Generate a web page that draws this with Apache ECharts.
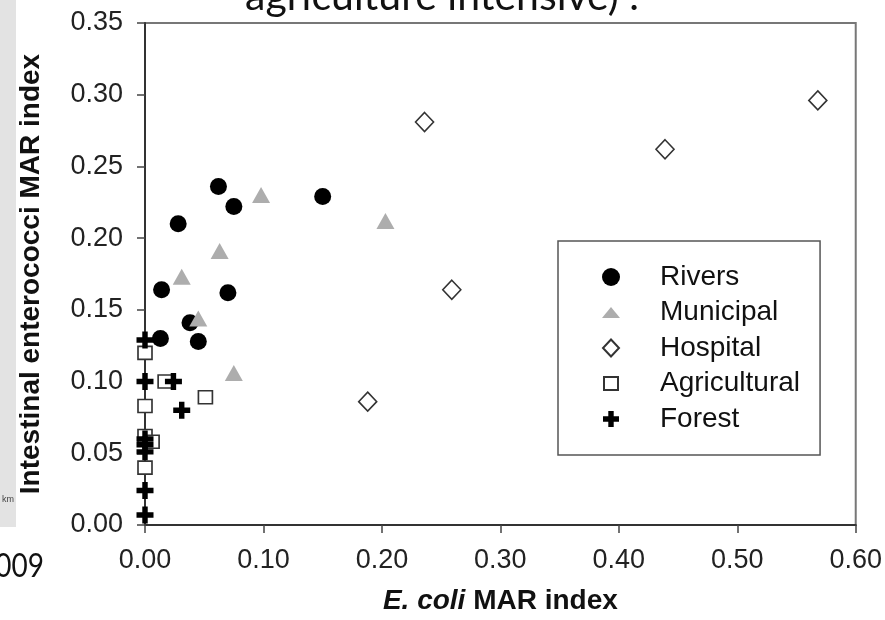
<!DOCTYPE html>
<html>
<head>
<meta charset="utf-8">
<script src="https://cdn.jsdelivr.net/npm/echarts@6/dist/echarts.min.js"></script>
<style>html,body{margin:0;padding:0;background:#fff;}#c{width:885px;height:620px;}</style>
</head>
<body>
<div id="c"></div>
<script>
// ---- data ----
const seriesNames = ['Rivers', 'Municipal', 'Hospital', 'Agricultural', 'Forest'];
const riversX = [0.014, 0.013, 0.028, 0.062, 0.075, 0.070, 0.038, 0.045, 0.150];
const riversY = [0.164, 0.130, 0.210, 0.236, 0.222, 0.162, 0.141, 0.128, 0.229];
const municipalX = [0.098, 0.203, 0.063, 0.031, 0.045, 0.075];
const municipalY = [0.230, 0.212, 0.191, 0.173, 0.144, 0.106];
const hospitalX = [0.236, 0.439, 0.568, 0.259, 0.188];
const hospitalY = [0.281, 0.262, 0.296, 0.164, 0.086];
const agriX = [0, 0.017, 0, 0.051, 0, 0.006, 0];
const agriY = [0.120, 0.100, 0.083, 0.089, 0.062, 0.058, 0.040];
const forestX = [0, 0, 0.024, 0.031, 0, 0, 0, 0, 0];
const forestY = [0.129, 0.100, 0.100, 0.080, 0.060, 0.056, 0.051, 0.024, 0.007];
const xTicks = { min: 0, max: 0.6, step: 0.1 };
const yTicks = { min: 0, max: 0.35, step: 0.05 };
const xTitle = '{i|E. coli} MAR index';
const yTitle = 'Intestinal enterococci MAR index';
const slideTitle = 'agriculture intensive) .';
const slideYear = '2009';
const slideNote = 'km';

const pair = (xs, ys) => xs.map((x, i) => [x, ys[i]]);
const PLUS = 'path://M3.4,0H6.6V3.4H10V6.6H6.6V10H3.4V6.6H0V3.4H3.4Z';
const FONT = 'Liberation Sans, Arial, sans-serif';

const chart = echarts.init(document.getElementById('c'), null, { renderer: 'canvas' });
chart.setOption({
  backgroundColor: '#ffffff',
  animation: false,
  grid: { left: 145, right: 25, top: 23, bottom: 92, show: true, borderColor: '#777', borderWidth: 2, backgroundColor: 'transparent' },
  xAxis: {
    type: 'value', min: xTicks.min, max: xTicks.max, interval: xTicks.step,
    axisLine: { onZero: false, lineStyle: { color: '#333', width: 2 } },
    axisTick: { show: true, length: 8, lineStyle: { color: '#444', width: 1.5 } },
    splitLine: { show: false },
    axisLabel: { formatter: v => v.toFixed(2), fontSize: 27, fontFamily: FONT, color: '#222', margin: 22, showMaxLabel: true },
    name: xTitle, nameLocation: 'middle', nameGap: 62,
    nameTextStyle: { fontSize: 28, fontWeight: 'bold', fontFamily: FONT, color: '#111',
      rich: { i: { fontSize: 28, fontWeight: 'bold', fontStyle: 'italic', fontFamily: FONT, color: '#111' } } }
  },
  yAxis: {
    type: 'value', min: yTicks.min, max: yTicks.max, interval: yTicks.step,
    axisLine: { onZero: false, lineStyle: { color: '#333', width: 2 } },
    axisTick: { show: true, length: 8, lineStyle: { color: '#444', width: 1.5 } },
    splitLine: { show: false },
    axisLabel: { formatter: v => v.toFixed(2), fontSize: 27, fontFamily: FONT, color: '#222', margin: 22 },
    name: yTitle, nameLocation: 'middle', nameGap: 100, nameRotate: 90,
    nameTextStyle: { fontSize: 28, fontWeight: 'bold', fontFamily: FONT, color: '#111' }
  },
  legend: {
    orient: 'vertical', left: 558, top: 241,
    padding: [22, 20, 22, 43], itemGap: 7.5, itemWidth: 88, itemHeight: 18,
    borderColor: '#555', borderWidth: 1.5, backgroundColor: '#fff',
    textStyle: { fontSize: 28, fontFamily: FONT, color: '#111', lineHeight: 27 },
    data: [
      { name: 'Rivers', icon: 'circle' },
      { name: 'Municipal', icon: 'path://M0,0M18,18M0,14.5L9,3.5L18,14.5Z' },
      { name: 'Hospital', icon: 'path://M0,0M18,18M9,0.5L17,9L9,17.5L1,9Z' },
      { name: 'Agricultural', icon: 'path://M0,0M18,18M2,2.5H16V15.5H2Z' },
      { name: 'Forest', icon: 'path://M0,0M18,18M6.3,1H11.7V6.3H17V11.7H11.7V17H6.3V11.7H1V6.3H6.3Z' }
    ]
  },
  series: [
    { name: seriesNames[0], type: 'scatter', symbol: 'circle', symbolSize: 17,
      itemStyle: { color: '#000', opacity: 1 }, data: pair(riversX, riversY) },
    { name: seriesNames[1], type: 'scatter', symbol: 'triangle', symbolSize: [18, 16],
      itemStyle: { color: '#adadad', opacity: 1 }, data: pair(municipalX, municipalY) },
    { name: seriesNames[2], type: 'scatter', symbol: 'diamond', symbolSize: [18, 19],
      itemStyle: { color: '#fff', borderColor: '#333', borderWidth: 1.6, opacity: 1 }, data: pair(hospitalX, hospitalY) },
    { name: seriesNames[3], type: 'scatter', symbol: 'rect', symbolSize: [14, 13],
      itemStyle: { color: '#fff', borderColor: '#333', borderWidth: 1.6, opacity: 1 }, data: pair(agriX, agriY) },
    { name: seriesNames[4], type: 'scatter', symbol: PLUS, symbolSize: 17,
      itemStyle: { color: '#000', opacity: 1 }, data: pair(forestX, forestY) }
  ],
  graphic: [
    { type: 'rect', left: 0, top: 0, shape: { width: 16, height: 527 }, style: { fill: '#e3e3e3' }, z: -1 },
    { type: 'text', x: 2, y: 500, style: { text: slideNote, font: '9px Liberation Sans', fill: '#444', verticalAlign: 'middle' } },
    { type: 'text', x: 44, y: 566, scaleY: 1.2, style: { text: slideYear, font: '28px Lato', fill: '#111', align: 'right', verticalAlign: 'middle' } },
    { type: 'text', x: 245, y: -3, style: { text: slideTitle, font: '41px Lato', fill: '#111', align: 'left', verticalAlign: 'middle' } }
  ]
});
</script>
</body>
</html>
